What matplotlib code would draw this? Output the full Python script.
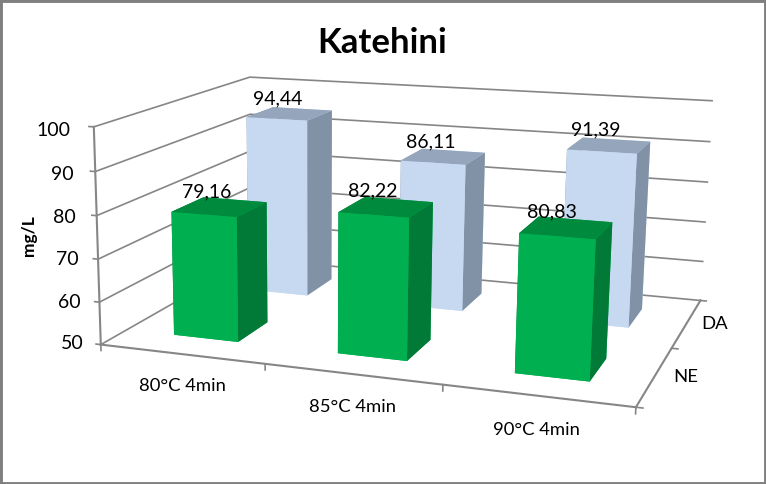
import numpy as np
import matplotlib
matplotlib.use('Agg')
import matplotlib.pyplot as plt
from matplotlib.patches import Rectangle

plt.rcParams['font.family'] = ['Lato', 'DejaVu Sans']

# dados
kategorije = ['80°C 4min', '85°C 4min', '90°C 4min']
serije = ['NE', 'DA']
ne_vrijednosti = [79.16, 82.22, 80.83]
da_vrijednosti = [94.44, 86.11, 91.39]
z_ticks = [50, 60, 70, 80, 90, 100]

W, H = 766, 484

# caixa do grafico (x, y, z) e onde ela aparece na imagem, para achar a camera
caixa = [(0, 0, 50), (1, 0, 50), (2, 0, 50), (3, 0, 50),
         (3, 1, 50), (3, 2, 50), (0, 2, 50),
         (0, 0, 60), (0, 0, 70), (0, 0, 80), (0, 0, 90), (0, 0, 100),
         (0, 2, 100), (3, 2, 100),
         (3, 2, 60), (3, 2, 70), (3, 2, 80), (3, 2, 90)]
pixels = [(103, 343), (266, 363), (442, 387), (635, 409),
          (673, 348), (701, 298), (248, 262),
          (101, 301), (98, 258), (96, 216), (94, 172), (92, 127),
          (253, 76), (712, 102),
          (703, 260), (705, 221.5), (707, 182.6), (709, 142)]


def calcular_camera(pontos, alvo):
    linhas = []
    for (x, y, z), (u, v) in zip(pontos, alvo):
        linhas.append([x, y, z, 1, 0, 0, 0, 0, -u * x, -u * y, -u * z, -u])
        linhas.append([0, 0, 0, 0, x, y, z, 1, -v * x, -v * y, -v * z, -v])
    p = np.linalg.svd(np.array(linhas, dtype=float))[2][-1].reshape(3, 4)
    if p[2] @ np.array([1.5, 1, 75, 1]) < 0:
        p = -p
    # de pixels para -1..1, senao o Line3D corta as linhas
    linha_x = p[0] * 2 / W - p[2]
    linha_y = -p[1] * 2 / W + p[2] * H / W
    # profundidade = -1/w, cresce para o fundo
    return np.array([linha_x, linha_y, [0, 0, 0, -1], p[2]])


fig = plt.figure(figsize=(W / 100, H / 100), dpi=100, facecolor='white')
# eixos 3d sao sempre quadrados, entao passam da figura em cima e embaixo
ax = fig.add_axes([0, (H - W) / 2 / H, 1, W / H], projection='3d')
ax.set_xticks([])
ax.set_yticks([])
ax.set_zticks([])
ax.xaxis.set_visible(False)
ax.yaxis.set_visible(False)
ax.zaxis.set_visible(False)
ax.set_axis_off()
ax.computed_zorder = False
ax.viewLim.intervalx = (-1, 1)
ax.viewLim.intervaly = (-1, 1)
camera = calcular_camera(caixa, pixels)
ax.get_proj = lambda: camera

cinza = '#868686'
linha = dict(color=cinza, zorder=1)
texto = dict(fontsize=14, color='black')

# grade nas paredes
for z in z_ticks:
    ax.plot([0, 0, 3], [0, 2, 2], [z, z, z], lw=1.2, **linha)
    ax.plot([0, -0.03], [0, 0], [z, z], lw=1.2, **linha)
    ax.text(-0.11 - 0.0007 * (z - 50), 0, z - 0.25 - 0.018 * (z - 50), str(z), ha='right', va='center', **texto)

# eixos
ax.plot([0, 0], [0, 0], [50, 100], lw=1.5, **linha)
ax.plot([0, 3], [0, 0], [50, 50], lw=1.5, **linha)
ax.plot([3, 3], [0, 2], [50, 50], lw=1.5, **linha)
for i in range(4):
    ax.plot([i, i], [0, 0], [50, 48.6], lw=1.2, **linha)
for j in range(3):
    ax.plot([3, 3.035], [j, j], [50, 50], lw=1.2, **linha)

# barras: ordem das faces do bar3d = baixo, cima, frente, tras, esquerda, direita
largura = 0.4
profundidade = 0.4
cores_da = ['#C6D9F1', '#95A5BC', '#C6D9F1', '#C6D9F1', '#8292A6', '#8292A6']
cores_ne = ['#00B050', '#008A3E', '#00B050', '#00B050', '#007A36', '#007A36']
for j, (valores, cores, ordem) in enumerate([(ne_vrijednosti, cores_ne, 3), (da_vrijednosti, cores_da, 2)]):
    for i, v in enumerate(valores):
        ax.bar3d(i + 0.5 - largura / 2, j + 0.5 - profundidade / 2, 50, largura, profundidade, v - 50,
                 color=cores, shade=False, linewidth=0, zorder=ordem)
        ax.text(i + 0.42, j + 0.5, v + 1.4, f'{v:.2f}'.replace('.', ','), ha='center', va='bottom',
                zorder=5, **texto)

# rotulos das categorias e series
for i, nome in enumerate(kategorije):
    ax.text(i + 0.5, 0, 42.5, nome, ha='center', va='center', fontsize=13.3, color='black')
for j, nome in enumerate(serije):
    ax.text(3.16, j + 0.5, 50.5, nome, ha='center', va='center', fontsize=13.3, color='black')

fig.text(382 / W, 1 - 43 / H, 'Katehini', ha='center', va='center', fontsize=25, fontweight='bold')
fig.text(29 / W, 1 - 236 / H, 'mg/L', ha='center', va='center', rotation=90, fontsize=12.5, fontweight='bold')
fig.add_artist(Rectangle((0, 0), 1, 1, transform=fig.transFigure, fill=False, edgecolor='#7F7F7F', lw=3.5))

fig.savefig('out.png', dpi=100)
